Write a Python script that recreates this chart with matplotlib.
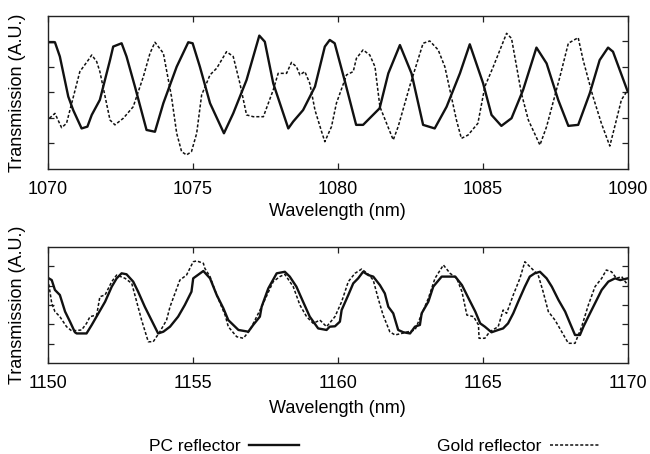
import matplotlib
matplotlib.use("Agg")
import matplotlib.pyplot as plt
from matplotlib.lines import Line2D

plt.rcParams["font.family"] = ["Liberation Sans", "DejaVu Sans"]

# ── Data (wavelength in nm, transmission in A.U.) ────
pc_top_wl = [1070.01, 1070.24, 1070.41, 1070.70, 1070.87, 1071.16, 1071.36, 1071.51,
             1071.79, 1072.14, 1072.25, 1072.54, 1072.71, 1073.00, 1073.40, 1073.69,
             1073.98, 1074.44, 1074.84, 1074.99, 1075.24, 1075.59, 1076.07, 1076.39,
             1076.85, 1077.29, 1077.48, 1077.77, 1078.29, 1078.46, 1078.80, 1079.21,
             1079.55, 1079.72, 1079.89, 1080.23, 1080.63, 1080.87, 1081.44, 1081.74,
             1082.14, 1082.54, 1082.94, 1083.34, 1083.75, 1084.21, 1084.55, 1085.01,
             1085.30, 1085.64, 1085.99, 1086.39, 1086.85, 1087.20, 1087.60, 1087.95,
             1088.29, 1088.69, 1089.03, 1089.32, 1089.49, 1090.00]
pc_top_t = [4.97, 4.97, 4.41, 2.84, 2.31, 1.59, 1.66, 2.12,
            2.71, 4.27, 4.80, 4.93, 4.41, 3.23, 1.53, 1.46,
            2.58, 4.01, 4.97, 4.93, 4.01, 2.58, 1.40, 2.18,
            3.49, 5.23, 4.99, 3.36, 1.59, 1.86, 2.31, 3.23,
            4.80, 5.06, 4.93, 3.49, 1.73, 1.73, 2.38, 3.75,
            4.86, 3.75, 1.73, 1.59, 2.44, 3.75, 4.89, 3.36,
            2.12, 1.69, 1.99, 3.10, 4.76, 4.14, 2.71, 1.69,
            1.73, 2.97, 4.27, 4.76, 4.60, 3.03]

gold_top_wl = [1070.05, 1070.24, 1070.47, 1070.64, 1071.10, 1071.39, 1071.51, 1071.68,
               1071.79, 1072.14, 1072.31, 1072.60, 1072.94, 1073.29, 1073.52, 1073.69,
               1073.98, 1074.26, 1074.44, 1074.61, 1074.78, 1074.95, 1075.13, 1075.30,
               1075.59, 1075.82, 1076.16, 1076.39, 1076.62, 1076.85, 1077.08, 1077.43,
               1077.77, 1077.94, 1078.23, 1078.40, 1078.57, 1078.69, 1078.86, 1079.03,
               1079.21, 1079.44, 1079.55, 1079.78, 1079.95, 1080.30, 1080.53, 1080.64,
               1080.87, 1081.10, 1081.28, 1081.45, 1081.68, 1081.91, 1082.08, 1082.49,
               1082.94, 1083.17, 1083.46, 1083.69, 1084.09, 1084.26, 1084.49, 1084.83,
               1085.07, 1085.36, 1085.82, 1085.99, 1086.33, 1086.57, 1086.97, 1087.20,
               1087.66, 1087.95, 1088.29, 1088.46, 1088.80, 1089.09, 1089.38, 1089.55,
               1089.78, 1090.00]
gold_top_t = [1.99, 2.18, 1.62, 1.79, 3.82, 4.27, 4.47, 4.21,
              3.82, 1.92, 1.73, 1.99, 2.44, 3.62, 4.54, 4.97,
              4.54, 2.84, 1.40, 0.68, 0.55, 0.68, 1.40, 2.90,
              3.69, 3.95, 4.60, 4.41, 3.36, 2.12, 2.05, 2.05,
              3.10, 3.75, 3.75, 4.18, 4.01, 3.69, 3.82, 3.36,
              2.31, 1.46, 1.07, 1.66, 2.58, 3.69, 3.82, 4.34,
              4.67, 4.47, 4.01, 2.44, 1.79, 1.14, 1.66, 3.29,
              4.93, 5.02, 4.67, 4.01, 1.92, 1.20, 1.33, 1.79,
              3.23, 4.01, 5.32, 5.12, 2.97, 1.92, 0.94, 1.66,
              3.62, 4.93, 5.15, 4.27, 2.84, 1.79, 0.90, 1.66,
              2.71, 3.10]

pc_bot_wl = [1150.03, 1150.13, 1150.24, 1150.41, 1150.59, 1150.76, 1150.93, 1150.99,
             1151.33, 1151.51, 1151.74, 1151.97, 1152.20, 1152.37, 1152.54, 1152.71,
             1152.94, 1153.11, 1153.34, 1153.57, 1153.80, 1153.98, 1154.21, 1154.49,
             1154.72, 1154.95, 1155.01, 1155.36, 1155.59, 1155.82, 1156.05, 1156.22,
             1156.57, 1156.91, 1157.08, 1157.31, 1157.37, 1157.60, 1157.89, 1158.17,
             1158.34, 1158.57, 1158.80, 1159.03, 1159.32, 1159.61, 1159.72, 1159.90,
             1160.07, 1160.13, 1160.36, 1160.53, 1160.70, 1160.87, 1161.05, 1161.22,
             1161.45, 1161.62, 1161.74, 1161.91, 1162.08, 1162.26, 1162.49, 1162.66,
             1162.83, 1162.89, 1163.12, 1163.29, 1163.58, 1163.87, 1164.05, 1164.28,
             1164.51, 1164.74, 1164.91, 1165.07, 1165.30, 1165.53, 1165.70, 1165.87,
             1166.05, 1166.22, 1166.45, 1166.62, 1166.79, 1166.97, 1167.20, 1167.38,
             1167.61, 1167.84, 1168.01, 1168.18, 1168.35, 1168.47, 1168.64, 1168.87,
             1169.10, 1169.33, 1169.56, 1169.74, 1170.00]
pc_bot_t = [4.38, 4.29, 3.78, 3.52, 2.66, 2.14, 1.59, 1.53,
            1.53, 1.97, 2.57, 3.17, 3.95, 4.38, 4.64, 4.59,
            4.21, 3.69, 2.91, 2.22, 1.53, 1.62, 1.88, 2.40,
            3.00, 3.69, 4.38, 4.76, 4.38, 3.52, 2.83, 2.22,
            1.71, 1.62, 1.97, 2.40, 2.91, 3.86, 4.64, 4.72,
            4.47, 3.95, 3.17, 2.40, 1.79, 1.71, 1.88, 1.90,
            2.14, 2.74, 3.52, 4.12, 4.38, 4.72, 4.55, 4.47,
            4.03, 3.60, 2.91, 2.57, 1.71, 1.59, 1.53, 1.88,
            1.97, 2.57, 3.17, 3.95, 4.47, 4.47, 4.47, 4.03,
            3.34, 2.66, 2.05, 1.88, 1.59, 1.71, 1.79, 2.05,
            2.57, 3.17, 3.95, 4.47, 4.64, 4.72, 4.38, 3.95,
            3.26, 2.66, 2.05, 1.45, 1.45, 1.88, 2.40, 3.09,
            3.78, 4.21, 4.38, 4.29, 4.38]

gold_bot_wl = [1150.03, 1150.13, 1150.24, 1150.41, 1150.64, 1150.82, 1151.16, 1151.33,
               1151.45, 1151.68, 1151.79, 1151.97, 1152.20, 1152.37, 1152.66, 1152.89,
               1153.06, 1153.23, 1153.46, 1153.63, 1153.86, 1154.09, 1154.21, 1154.55,
               1154.78, 1155.01, 1155.13, 1155.36, 1155.41, 1155.59, 1155.82, 1156.11,
               1156.22, 1156.51, 1156.74, 1156.97, 1157.37, 1157.77, 1158.00, 1158.17,
               1158.46, 1158.69, 1158.92, 1159.15, 1159.38, 1159.61, 1159.90, 1160.13,
               1160.36, 1160.59, 1160.82, 1161.05, 1161.22, 1161.39, 1161.56, 1161.79,
               1161.97, 1162.20, 1162.66, 1163.12, 1163.35, 1163.64, 1163.87, 1164.10,
               1164.28, 1164.45, 1164.68, 1164.85, 1164.87, 1165.07, 1165.24, 1165.53,
               1165.70, 1165.82, 1166.05, 1166.28, 1166.45, 1166.68, 1166.91, 1167.08,
               1167.26, 1167.49, 1167.72, 1167.95, 1168.18, 1168.41, 1168.64, 1168.87,
               1169.10, 1169.26, 1169.44, 1169.61, 1169.79, 1170.00]
gold_bot_t = [4.07, 3.09, 2.66, 2.40, 1.88, 1.66, 1.71, 2.05,
              2.40, 2.48, 3.43, 3.52, 4.21, 4.55, 4.38, 4.12,
              3.17, 2.22, 1.10, 1.10, 1.62, 2.22, 2.91, 4.29,
              4.55, 5.24, 5.28, 5.16, 4.90, 4.47, 3.52, 2.48,
              1.88, 1.36, 1.28, 1.71, 2.91, 4.21, 4.47, 4.59,
              3.95, 3.00, 2.40, 2.05, 2.22, 1.88, 2.40, 3.17,
              4.21, 4.64, 4.86, 4.59, 4.29, 3.34, 2.48, 1.62,
              1.45, 1.53, 1.71, 3.34, 4.38, 5.07, 4.64, 4.38,
              3.69, 2.48, 2.40, 1.97, 1.28, 1.28, 1.62, 1.88,
              2.74, 2.57, 3.52, 4.38, 5.24, 4.90, 4.55, 3.69,
              2.66, 2.22, 1.62, 1.02, 1.02, 1.88, 3.00, 3.95,
              4.38, 4.81, 4.72, 4.38, 4.47, 4.03]

top_xticks = [1070, 1075, 1080, 1085, 1090]
bot_xticks = [1150, 1155, 1160, 1165, 1170]
yticks = [1, 2, 3, 4, 5]

PC_STYLE = dict(color="#111111", linewidth=1.7, linestyle="-",
                solid_joinstyle="round")
GOLD_STYLE = dict(color="#111111", linewidth=1.1, linestyle=(0, (2.0, 1.3)))
FS = 13

fig = plt.figure(figsize=(6.5, 4.54), dpi=100)
ax_top = fig.add_axes([0.0738, 0.6278, 0.892, 0.337])
ax_bot = fig.add_axes([0.0738, 0.2004, 0.892, 0.2555])

panels = [
    (ax_top, pc_top_wl, pc_top_t, gold_top_wl, gold_top_t, top_xticks, 4),
    (ax_bot, pc_bot_wl, pc_bot_t, gold_bot_wl, gold_bot_t, bot_xticks, 6),
]
for ax, pwl, pt, gwl, gt, xt, lpad in panels:
    ax.plot(pwl, pt, **PC_STYLE)
    ax.plot(gwl, gt, **GOLD_STYLE)
    ax.set_xlim(xt[0], xt[-1])
    ax.set_ylim(0, 6)
    ax.set_xticks(xt)
    ax.set_yticks(yticks)
    ax.set_yticklabels([])
    ax.tick_params(direction="in", top=True, right=True, length=4,
                   width=0.9, color="#222222", labelsize=FS, pad=8.5)
    for sp in ax.spines.values():
        sp.set_linewidth(1.0)
        sp.set_color("#222222")
    ax.set_xlabel("Wavelength (nm)", fontsize=FS, labelpad=lpad)
    ax.set_ylabel("Transmission (A.U.)", fontsize=FS)
    ax.yaxis.set_label_coords(-0.038, 0.5)

# ── Legend (text first, then line sample) ──────────────────────────────────
handles = [Line2D([], [], **PC_STYLE), Line2D([], [], **GOLD_STYLE)]
fig.legend(handles, ["PC reflector", "Gold reflector"],
           loc="center", bbox_to_anchor=(0.576, 0.0176), ncol=2,
           frameon=False, markerfirst=False, fontsize=12.5,
           handlelength=2.9, handletextpad=0.5, columnspacing=7.9)

fig.savefig("out.png", dpi=100)
